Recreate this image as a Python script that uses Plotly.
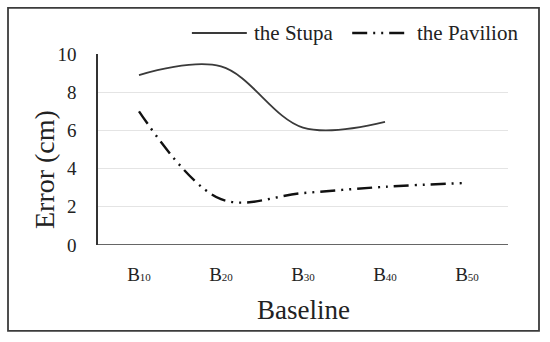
import plotly.graph_objects as go

categories = ["B10", "B20", "B30", "B40", "B50"]
tick_labels = ["B<span style='font-size:11px'>10</span>",
               "B<span style='font-size:11px'>20</span>",
               "B<span style='font-size:11px'>30</span>",
               "B<span style='font-size:11px'>40</span>",
               "B<span style='font-size:11px'>50</span>"]
stupa = [8.9, 9.35, 6.15, 6.45, None]
pavilion = [7.0, 2.4, 2.72, 3.05, 3.25]
yticks = [0, 2, 4, 6, 8, 10]
series_names = ["the Stupa", "the Pavilion"]

xpos = list(range(len(categories)))
font = "Liberation Serif, Times New Roman, serif"
PAV_DASH = "15px,6px,2px,6px,2px,6px"
TXT = "#222222"

fig = go.Figure()
fig.add_trace(go.Scatter(x=xpos, y=stupa, mode="lines", name=series_names[0],
                         line=dict(color="#3a3a3a", width=1.8, shape="spline", smoothing=1.0)))
fig.add_trace(go.Scatter(x=xpos, y=pavilion, mode="lines", name=series_names[1],
                         line=dict(color="#111111", width=2.4, shape="spline", smoothing=1.0,
                                   dash=PAV_DASH)))

fig.update_layout(
    width=550, height=342,
    margin=dict(l=98, r=42, t=54, b=97),
    paper_bgcolor="white", plot_bgcolor="white",
    font=dict(family=font, color=TXT),
    showlegend=False,
    xaxis=dict(range=[-0.5, 4.5], tickmode="array", tickvals=xpos, ticktext=tick_labels,
               showgrid=False, zeroline=False, showline=False, ticks="",
               tickfont=dict(size=19, family=font, color=TXT), ticklabelstandoff=16),
    yaxis=dict(range=[0, 10], tickmode="array", tickvals=yticks,
               showgrid=True, gridcolor="#e4e4e4", gridwidth=1.2, zeroline=False,
               showline=True, linecolor="#333333", linewidth=1.5, ticks="",
               tickfont=dict(size=19, family=font, color=TXT), ticklabelstandoff=16),
)

# axis titles
fig.add_annotation(text="Baseline", xref="paper", yref="paper", x=0.5, y=-0.340,
                   xanchor="center", yanchor="middle", showarrow=False,
                   font=dict(size=27, family=font, color=TXT))
fig.add_annotation(text="Error (cm)", xref="paper", yref="paper", x=-0.129, y=0.393,
                   xanchor="center", yanchor="middle", showarrow=False, textangle=-90,
                   font=dict(size=28, family=font, color=TXT))

# custom legend
LEG_Y = 1.110
fig.add_shape(type="line", xref="paper", yref="paper", x0=0.229, x1=0.363, y0=LEG_Y, y1=LEG_Y,
              line=dict(color="#3a3a3a", width=2))
fig.add_annotation(text=series_names[0], xref="paper", yref="paper", x=0.376, y=LEG_Y,
                   xanchor="left", yanchor="middle", showarrow=False,
                   font=dict(size=21, family=font, color=TXT))
fig.add_shape(type="line", xref="paper", yref="paper", x0=0.620, x1=0.761, y0=LEG_Y, y1=LEG_Y,
              line=dict(color="#111111", width=2.6, dash=PAV_DASH))
fig.add_annotation(text=series_names[1], xref="paper", yref="paper", x=0.772, y=LEG_Y,
                   xanchor="left", yanchor="middle", showarrow=False,
                   font=dict(size=21, family=font, color=TXT))

# baseline at y=0
fig.add_shape(type="line", xref="paper", yref="y", x0=0, x1=1, y0=0, y1=0,
              line=dict(color="#333333", width=1.5))
# outer frame
fig.add_shape(type="rect", xref="paper", yref="paper", x0=-0.2195, x1=1.0756, y0=-0.450, y1=1.241,
              line=dict(color="#3c3c3c", width=1.8), layer="below")

fig.write_html("out.html", config={"displayModeBar": False},
               post_script="document.body.style.margin='0';")
